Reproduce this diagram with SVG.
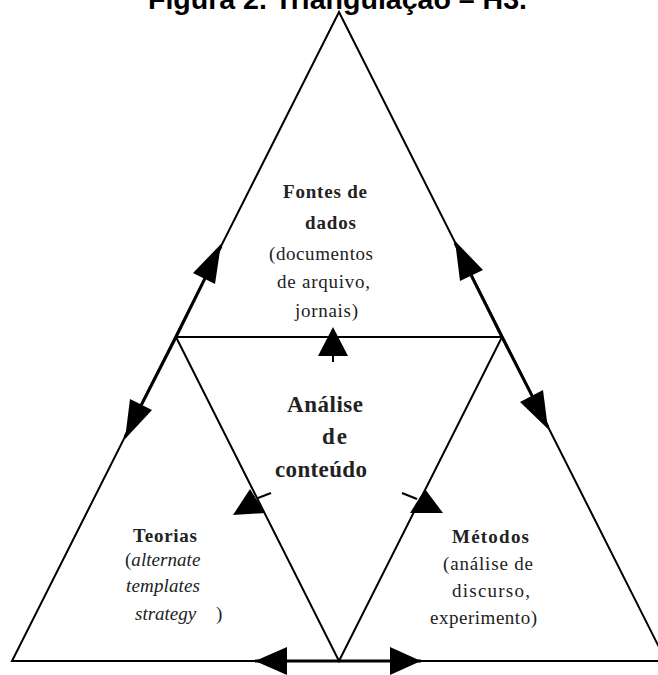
<svg xmlns="http://www.w3.org/2000/svg" width="658" height="675" viewBox="0 0 658 675">
<style>
.edge{fill:none;stroke:#000;stroke-width:2}
.conn{stroke:#000;stroke-width:3;fill:none}
.head{fill:#000;stroke:none}
.title{font-family:"Liberation Sans",Arial,sans-serif;font-weight:bold;font-size:28px;fill:#000}
.t{font-family:"Liberation Serif","Times New Roman",serif;font-size:19px;fill:#222}
.b{font-weight:bold}
.i{font-style:italic}
.big{font-family:"Liberation Serif","Times New Roman",serif;font-size:23px;font-weight:bold;fill:#222}
</style>
<rect width="658" height="675" fill="#fff"/>
<text class="title" x="148" y="9" textLength="379" lengthAdjust="spacingAndGlyphs">Figura 2. Triangulação – H3.</text>
<g id="frame">
<polygon class="edge" points="339,12 12,661 666,661"/>
<line class="edge" x1="176" y1="337" x2="502" y2="337"/>
<polyline class="edge" points="176,337 339,661 502,337"/>
</g>
<g id="connectors">
<line class="conn" x1="176" y1="337" x2="221" y2="246"/>
<polygon class="head" points="221,244 215,284 193,273"/>
<line class="conn" x1="176" y1="337" x2="125" y2="437"/>
<polygon class="head" points="125,439 152,410 130,399"/>
<line class="conn" x1="502" y1="337" x2="455" y2="243"/>
<polygon class="head" points="455,241 483,270 460,281"/>
<line class="conn" x1="502" y1="337" x2="548" y2="427"/>
<polygon class="head" points="548,429 520,402 543,390"/>
<polygon class="head" points="333,327 318,356 348,356"/>
<line class="edge" x1="333" y1="356" x2="333" y2="362"/>
<polygon class="head" points="250,489 233,515 265,513"/>
<line class="edge" x1="258" y1="498" x2="271" y2="493"/>
<polygon class="head" points="425,489 410,513 443,513"/>
<line class="edge" x1="402" y1="493" x2="417" y2="499"/>
<line class="conn" x1="255" y1="661" x2="421" y2="661"/>
<polygon class="head" points="255,661 287,647 287,675"/>
<polygon class="head" points="421,661 390,647 390,675"/>
</g>
<g id="fontes">
<text class="t b" x="283" y="198" textLength="84" lengthAdjust="spacing">Fontes de</text>
<text class="t b" x="305" y="229" textLength="51" lengthAdjust="spacing">dados</text>
<text class="t" x="269" y="260" textLength="104" lengthAdjust="spacing">(documentos</text>
<text class="t" x="277" y="288" textLength="93" lengthAdjust="spacing">de arquivo,</text>
<text class="t" x="295" y="317" textLength="63" lengthAdjust="spacing">jornais)</text>
</g>
<g id="analise">
<text class="big" x="287" y="412" textLength="76" lengthAdjust="spacing">Análise</text>
<text class="big" x="322" y="444" textLength="25" lengthAdjust="spacing">de</text>
<text class="big" x="275" y="477" textLength="92" lengthAdjust="spacing">conteúdo</text>
</g>
<g id="teorias">
<text class="t b" x="133" y="542" textLength="64" lengthAdjust="spacing">Teorias</text>
<text class="t" x="125" y="566">(<tspan class="i" textLength="69" lengthAdjust="spacing">alternate</tspan></text>
<text class="t i" x="126" y="592" textLength="74" lengthAdjust="spacing">templates</text>
<text class="t" x="135" y="620"><tspan class="i">strategy</tspan><tspan x="216">)</tspan></text>
</g>
<g id="metodos">
<text class="t b" x="452" y="543" textLength="77" lengthAdjust="spacing">Métodos</text>
<text class="t" x="443" y="570" textLength="90" lengthAdjust="spacing">(análise de</text>
<text class="t" x="452" y="597" textLength="78" lengthAdjust="spacing">discurso,</text>
<text class="t" x="430" y="624" textLength="107" lengthAdjust="spacing">experimento)</text>
</g>
</svg>
